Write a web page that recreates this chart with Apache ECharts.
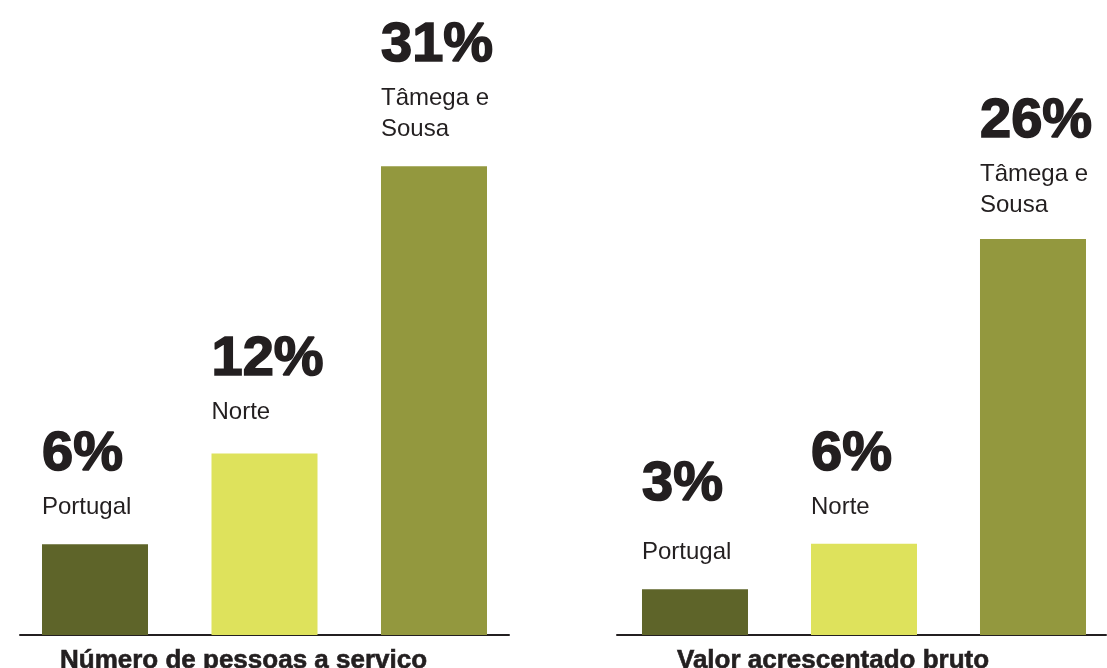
<!DOCTYPE html>
<html>
<head>
<meta charset="utf-8">
<script src="https://cdn.jsdelivr.net/npm/echarts@6/dist/echarts.min.js"></script>
<style>
html,body{margin:0;padding:0;background:#ffffff;}
#chart{width:1107px;height:668px;}
</style>
</head>
<body>
<div id="chart"></div>
<script>
// ---- data ----
const regions = ['Portugal', 'Norte', 'Tâmega e Sousa'];
const pessoasValues = [6, 12, 31];
const vabValues = [3, 6, 26];
const panelTitles = ['Número de pessoas a serviço', 'Valor acrescentado bruto'];

// ---- styling / layout (not data) ----
const barColors = ['#5e6429', '#dee25c', '#93983e'];
const ink = '#231f20';
const FONT = 'Liberation Sans, Arial, sans-serif';
// per-panel, per-bar label nudges: [extra distance above bar, extra gap for value line]
const labelNudge = [
  [[0, 0], [5, 0], [0, 0]],
  [[0, 30], [0, 0], [-3, 0]]
];

function labelText(i, v) {
  const name = regions[i].replace(' e ', ' e\n');
  const lines = name.split('\n').map(s => '{n|' + s + '}').join('\n');
  return '{v|' + v + '%}\n' + lines;
}

function vStyle(extra) {
  return {
    fontFamily: FONT, fontWeight: 'bold', fontSize: 56, lineHeight: 75 + extra, color: ink,
    textBorderColor: ink, textBorderWidth: 1.6
  };
}
function nStyle() {
  return { fontFamily: FONT, fontSize: 24, lineHeight: 31, color: ink };
}

function makeSeries(values, idx) {
  return {
    type: 'bar',
    xAxisIndex: idx,
    yAxisIndex: idx,
    barWidth: 106,
    data: values.map((v, i) => ({
      value: [i, v],
      itemStyle: { color: barColors[i] },
      label: {
        distance: 21 + labelNudge[idx][i][0],
        rich: { v: vStyle(labelNudge[idx][i][1]), n: nStyle() }
      }
    })),
    label: {
      show: true,
      position: 'top',
      align: 'left',
      offset: [-53, 0],
      distance: 21,
      formatter: p => labelText(p.dataIndex, p.value[1]),
      rich: { v: vStyle(0), n: nStyle() }
    },
    silent: true,
    animation: false
  };
}

function xAxisFor(grid, min, max) {
  return {
    gridIndex: grid,
    type: 'value',
    min: min,
    max: max,
    axisLine: { show: true, onZero: false, lineStyle: { color: ink, width: 2 } },
    axisTick: { show: false },
    axisLabel: { show: false },
    splitLine: { show: false }
  };
}
function yAxisFor(grid, max) {
  return { gridIndex: grid, type: 'value', min: 0, max: max, show: false };
}

const titleStyle = { fontFamily: FONT, fontWeight: 'bold', fontSize: 26, color: ink, textBorderColor: ink, textBorderWidth: 0.6 };

const chart = echarts.init(document.getElementById('chart'), null, { renderer: 'canvas' });
chart.setOption({
  animation: false,
  backgroundColor: '#ffffff',
  grid: [
    { left: 20, width: 489, top: 0, bottom: 33 },
    { left: 617, width: 489, top: 0, bottom: 33 }
  ],
  xAxis: [xAxisFor(0, -0.4425, 2.4425), xAxisFor(1, -0.4615, 2.432)],
  yAxis: [yAxisFor(0, 42), yAxisFor(1, 41.7)],
  title: [
    { text: panelTitles[0], left: 60, top: 648, padding: 0, textStyle: titleStyle },
    { text: panelTitles[1], left: 677, top: 648, padding: 0, textStyle: titleStyle }
  ],
  series: [makeSeries(pessoasValues, 0), makeSeries(vabValues, 1)]
});
</script>
</body>
</html>
